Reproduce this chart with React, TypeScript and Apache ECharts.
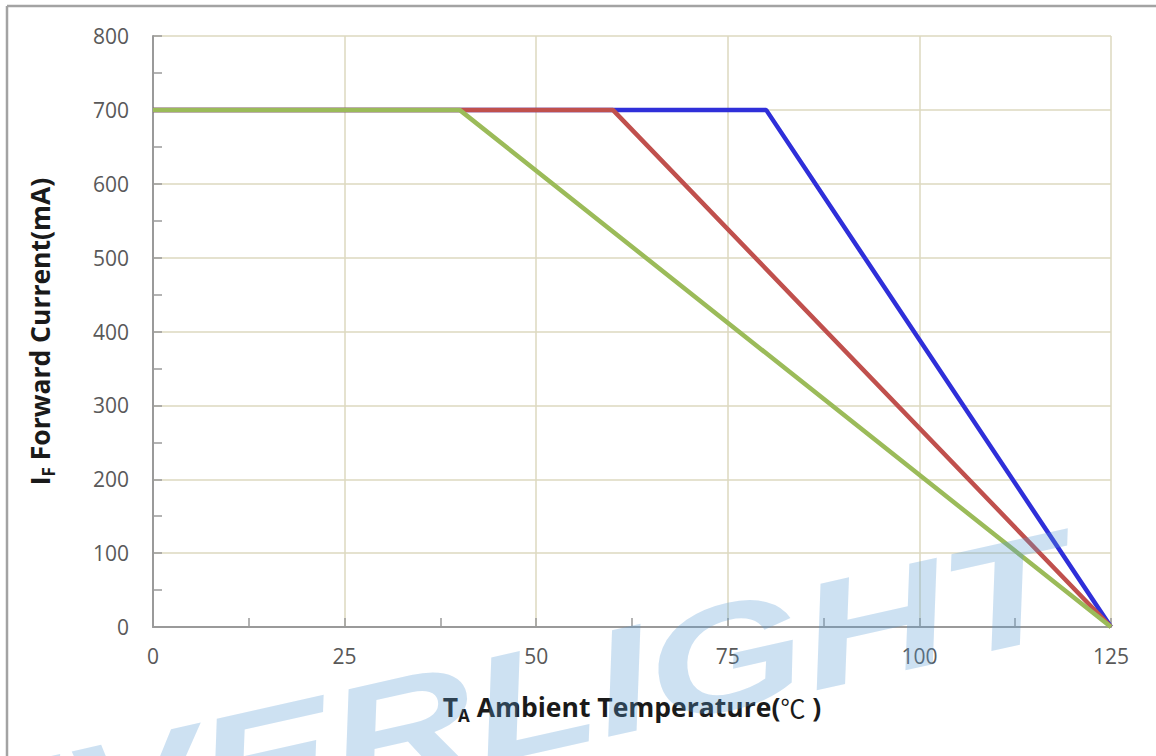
import React, { useEffect, useRef } from "react";
import * as echarts from "echarts";

// Derating curves: ambient temperature (°C) vs forward current (mA)
const blueTemps = [0, 80, 125];
const blueCurrents = [700, 700, 0];
const redTemps = [0, 60, 125];
const redCurrents = [700, 700, 0];
const greenTemps = [0, 40, 125];
const greenCurrents = [700, 700, 0];

const xTicks = [0, 25, 50, 75, 100, 125];
const yTicks = [0, 100, 200, 300, 400, 500, 600, 700, 800];

const pairs = (xs: number[], ys: number[]) => xs.map((x, i) => [x, ys[i]]);

export default function App() {
  const ref = useRef<HTMLDivElement>(null);

  useEffect(() => {
    if (!ref.current) return;
    const chart = echarts.init(ref.current, undefined, { renderer: "svg" });
    const labelFont = "'Open Sans', 'Noto Sans', sans-serif";
    const titleRich = {
      b: { fontSize: 26.5, fontWeight: "bold", color: "#1a1a1a", fontFamily: labelFont, lineHeight: 34 },
      s: { fontSize: 17, fontWeight: "bold", color: "#1a1a1a", fontFamily: labelFont, lineHeight: 17, verticalAlign: "bottom" },
      c: { fontSize: 25, fontWeight: "normal", color: "#1a1a1a", fontFamily: "'Noto Sans CJK SC', sans-serif", lineHeight: 34 },
    };
    chart.setOption({
      animation: false,
      backgroundColor: "#ffffff",
      grid: { left: 153, right: 45, top: 36, bottom: 129, containLabel: false },
      xAxis: {
        type: "value",
        min: xTicks[0],
        max: xTicks[xTicks.length - 1],
        interval: 25,
        name: "{b|T}{s|A}{b| Ambient Temperature(}{c|℃}{b| )}",
        nameLocation: "middle",
        nameGap: 63,
        nameTextStyle: { rich: titleRich },
        axisLine: { show: true, lineStyle: { color: "#9a9a9a", width: 2 } },
        axisTick: { show: true, inside: true, length: 9, lineStyle: { color: "#9a9a9a", width: 1.5 } },
        minorTick: { show: true, splitNumber: 2, length: 9, lineStyle: { color: "#9a9a9a", width: 1.5 } },
        axisLabel: { color: "#595959", fontSize: 21, fontFamily: labelFont, margin: 18 },
        splitLine: { show: true, lineStyle: { color: "#dcd8bf", width: 1.5 } },
        minorSplitLine: { show: false },
      },
      yAxis: {
        type: "value",
        min: yTicks[0],
        max: yTicks[yTicks.length - 1],
        interval: 100,
        name: "{b|I}{s|F}{b| Forward Current(mA)}",
        nameLocation: "middle",
        nameRotate: 90,
        nameGap: 96,
        nameTextStyle: { rich: titleRich },
        axisLine: { show: true, lineStyle: { color: "#9a9a9a", width: 2 } },
        axisTick: { show: true, inside: true, length: 9, lineStyle: { color: "#9a9a9a", width: 1.5 } },
        minorTick: { show: true, splitNumber: 2, length: 9, lineStyle: { color: "#9a9a9a", width: 1.5 } },
        axisLabel: { color: "#595959", fontSize: 21, fontFamily: labelFont, margin: 24 },
        splitLine: { show: true, lineStyle: { color: "#dcd8bf", width: 1.5 } },
        minorSplitLine: { show: false },
      },
      series: [
        {
          name: "Blue",
          type: "line",
          data: pairs(blueTemps, blueCurrents),
          symbol: "none",
          lineStyle: { color: "#2f2fd9", width: 4.5 },
          z: 2,
        },
        {
          name: "Red",
          type: "line",
          data: pairs(redTemps, redCurrents),
          symbol: "none",
          lineStyle: { color: "#c0504d", width: 4.5 },
          z: 3,
        },
        {
          name: "Green",
          type: "line",
          data: pairs(greenTemps, greenCurrents),
          symbol: "none",
          lineStyle: { color: "#9bbb59", width: 4.5 },
          z: 4,
        },
      ],
      graphic: [
        {
          type: "line",
          shape: { x1: 7, y1: 6, x2: 7, y2: 756 },
          style: { stroke: "#a3a3a3", lineWidth: 2.5 },
          silent: true,
        },
        {
          type: "line",
          shape: { x1: 7, y1: 6, x2: 1156, y2: 6 },
          style: { stroke: "#a3a3a3", lineWidth: 2.5 },
          silent: true,
        },
        {
          type: "text",
          x: 500,
          y: 708,
          rotation: 0.22,
          scaleX: 1.35,
          scaleY: 1,
          z: 100,
          silent: true,
          style: {
            text: "EVERLIGHT",
            fontSize: 150,
            fontWeight: "bold",
            fontStyle: "italic",
            fontFamily: "'Liberation Sans', Arial, sans-serif",
            fill: "#5b9bd5",
            opacity: 0.3,
            align: "center",
            verticalAlign: "middle",
          },
        },
      ],
    });
    return () => chart.dispose();
  }, []);

  return (
    <div
      ref={ref}
      style={{ position: "absolute", left: 0, top: 0, width: 1156, height: 756 }}
    />
  );
}
